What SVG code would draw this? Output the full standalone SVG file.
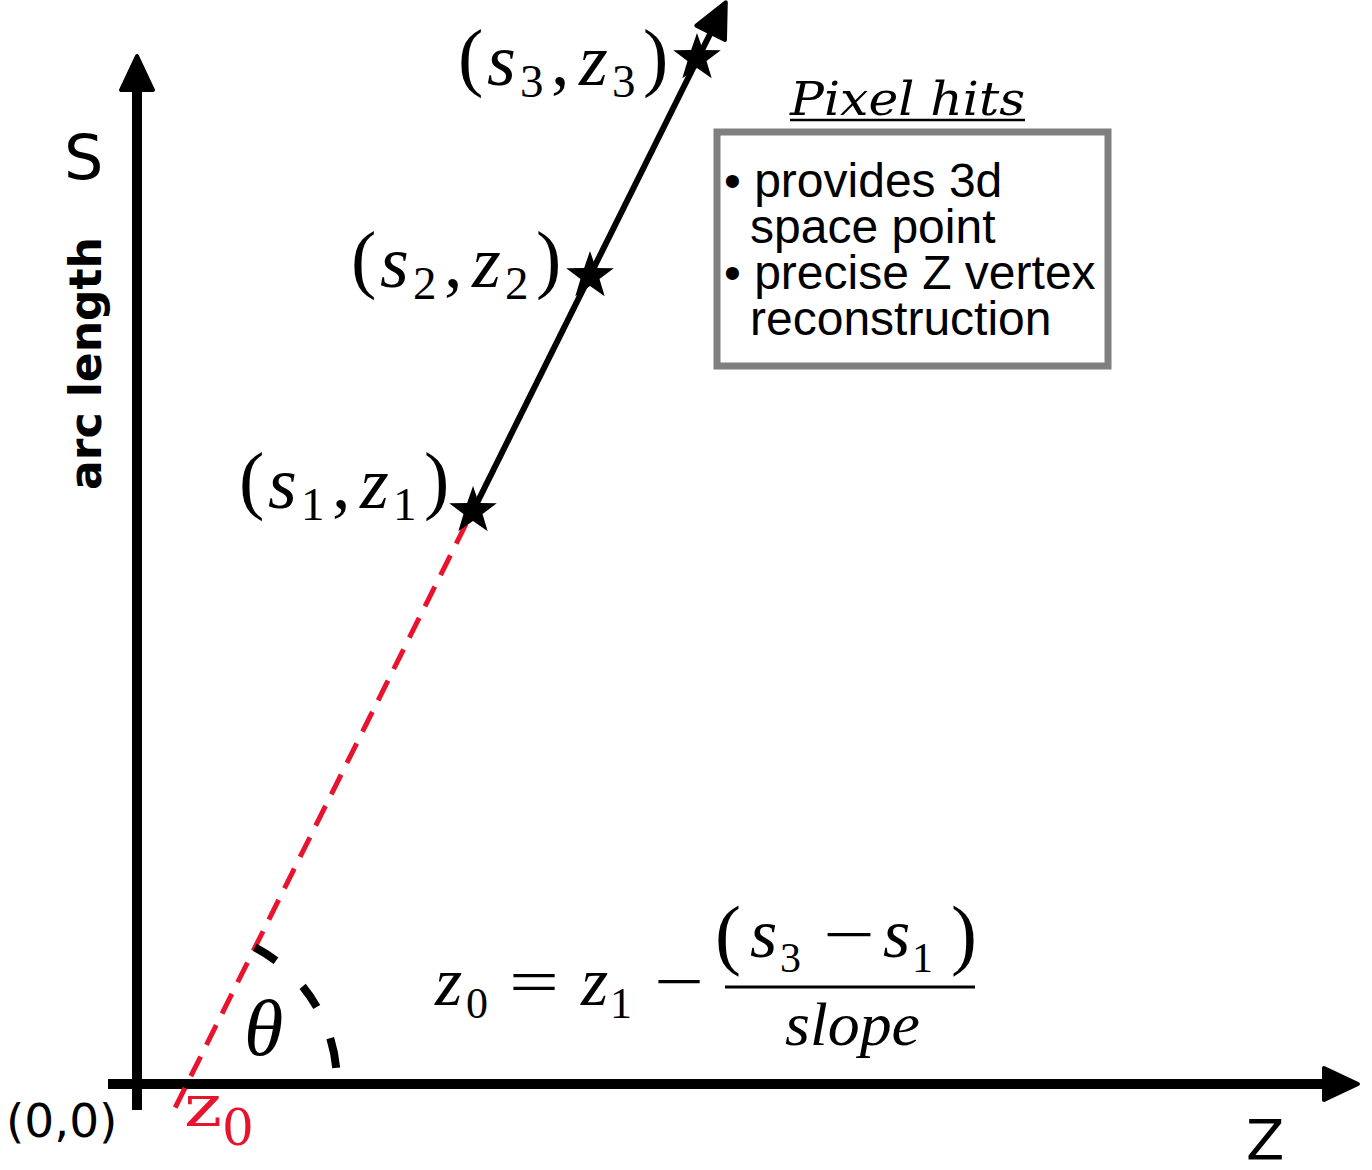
<svg xmlns="http://www.w3.org/2000/svg" xmlns:xlink="http://www.w3.org/1999/xlink" width="1372" height="1170" viewBox="0 0 1372 1170">
  <style>
    .axis { stroke: #000; stroke-width: 10; fill: none; }
    .track { stroke: #000; stroke-width: 6; fill: none; }
    .extrap { stroke: #e8132d; stroke-width: 5; fill: none; stroke-dasharray: 22 13; }
    .arc { stroke: #000; stroke-width: 8; fill: none; stroke-dasharray: 25 37 25 34 31; }
    .sans { font-family: "DejaVu Sans", sans-serif; fill: #000; }
    .box { font-family: "Liberation Sans", Arial, sans-serif; font-size: 48px; fill: #000; }
    .mi { font-family: "Liberation Serif", "Times New Roman", serif; font-style: italic; }
    .mr { font-family: "Liberation Serif", "Times New Roman", serif; }
  </style>
  <defs>
    <marker id="arrow" markerUnits="userSpaceOnUse" markerWidth="40" markerHeight="40" refX="0" refY="0" orient="auto" overflow="visible">
      <path d="M22,0 L-12,-16 L-12,16 Z" fill="#000" stroke="#000" stroke-width="4" stroke-linejoin="round"/>
    </marker>
    <path id="star" d="M0,-25 L5.88,-8.09 L23.78,-7.73 L9.51,3.09 L14.69,20.23 L0,10 L-14.69,20.23 L-9.51,3.09 L-23.78,-7.73 L-5.88,-8.09 Z" fill="#000"/>
  </defs>
  <rect width="1372" height="1170" fill="#fff"/>

  <g id="connectors">
    <line id="s-axis" class="axis" x1="137" y1="1110" x2="137" y2="78" marker-end="url(#arrow)"/>
    <line id="z-axis" class="axis" x1="108" y1="1084" x2="1336" y2="1084" marker-end="url(#arrow)"/>
    <line id="track" class="track" x1="473" y1="511" x2="716" y2="22" marker-end="url(#arrow)"/>
    <line id="extrapolation" class="extrap" x1="466" y1="524" x2="174" y2="1110"/>
    <path id="theta-arc" class="arc" d="M254.9,947.4 A153,153 0 0 1 336.2,1067.8"/>
  </g>

  <g id="hit1">
    <use xlink:href="#star" href="#star" x="473" y="511"/>
    <text font-size="74" fill="#000" transform="translate(-219,423)">
      <tspan class="mr" x="458" y="82" font-size="76">(</tspan><tspan class="mi" x="487" y="85">s</tspan><tspan class="mr" x="520" y="97" font-size="47">1</tspan><tspan class="mr" x="551" y="85">,</tspan><tspan class="mi" x="579" y="85">z</tspan><tspan class="mr" x="612" y="97" font-size="47">1</tspan><tspan class="mr" x="643" y="82" font-size="76">)</tspan>
    </text>
  </g>
  <g id="hit2">
    <use xlink:href="#star" href="#star" x="590" y="276"/>
    <text font-size="74" fill="#000" transform="translate(-107,202)">
      <tspan class="mr" x="458" y="82" font-size="76">(</tspan><tspan class="mi" x="487" y="85">s</tspan><tspan class="mr" x="520" y="97" font-size="47">2</tspan><tspan class="mr" x="551" y="85">,</tspan><tspan class="mi" x="579" y="85">z</tspan><tspan class="mr" x="612" y="97" font-size="47">2</tspan><tspan class="mr" x="643" y="82" font-size="76">)</tspan>
    </text>
  </g>
  <g id="hit3">
    <use xlink:href="#star" href="#star" x="697" y="58"/>
    <text font-size="74" fill="#000">
      <tspan class="mr" x="458" y="82" font-size="76">(</tspan><tspan class="mi" x="487" y="85">s</tspan><tspan class="mr" x="520" y="97" font-size="47">3</tspan><tspan class="mr" x="551" y="85">,</tspan><tspan class="mi" x="579" y="85">z</tspan><tspan class="mr" x="612" y="97" font-size="47">3</tspan><tspan class="mr" x="643" y="82" font-size="76">)</tspan>
    </text>
  </g>

  <g id="pixel-hits">
    <text x="790" y="115" font-family="DejaVu Serif, serif" font-style="italic" font-size="47" textLength="235" lengthAdjust="spacingAndGlyphs" fill="#000">Pixel hits</text>
    <line x1="790" y1="120" x2="1025" y2="120" stroke="#000" stroke-width="2.5"/>
    <rect x="717" y="132" width="391" height="234" fill="#fff" stroke="#7f7f7f" stroke-width="7"/>
    <text class="box" x="724" y="197">• provides 3d</text>
    <text class="box" x="750" y="243">space point</text>
    <text class="box" x="724" y="289">• precise Z vertex</text>
    <text class="box" x="750" y="335">reconstruction</text>
  </g>

  <g id="axis-labels">
    <text class="sans" x="64" y="179" font-size="62">S</text>
    <text class="sans" font-size="44" font-weight="bold" transform="translate(101,490) rotate(-90)">arc length</text>
    <text class="sans" x="1246" y="1159" font-size="56">Z</text>
    <text class="sans" x="6" y="1137" font-size="47">(0,0)</text>
  </g>

  <g id="z0-label" fill="#e8132d">
    <text x="184" y="1126" font-family="DejaVu Serif, serif" font-size="58" textLength="38" lengthAdjust="spacingAndGlyphs">z</text>
    <text x="222" y="1145" font-family="DejaVu Serif, serif" font-size="50">0</text>
  </g>

  <g id="theta-label">
    <text class="mi" x="244" y="1055" font-size="80" fill="#000">θ</text>
  </g>

  <g id="formula" fill="#000">
    <text class="mi" x="435" y="1005" font-size="70">z</text>
    <text class="mr" x="466" y="1018" font-size="44">0</text>
    <text class="mr" x="509" y="1003" font-size="64" textLength="50" lengthAdjust="spacingAndGlyphs">=</text>
    <text class="mi" x="581" y="1005" font-size="70">z</text>
    <text class="mr" x="610" y="1018" font-size="44">1</text>
    <text class="mr" x="654" y="1003" font-size="64" textLength="50" lengthAdjust="spacingAndGlyphs">−</text>
    <text class="mr" x="715" y="960" font-size="78">(</text>
    <text class="mi" x="750" y="957" font-size="70">s</text>
    <text class="mr" x="780" y="972" font-size="42">3</text>
    <text class="mr" x="823" y="956" font-size="64" textLength="52" lengthAdjust="spacingAndGlyphs">−</text>
    <text class="mi" x="883" y="957" font-size="70">s</text>
    <text class="mr" x="912" y="972" font-size="42">1</text>
    <text class="mr" x="951" y="960" font-size="78">)</text>
    <line x1="725" y1="987" x2="975" y2="987" stroke="#000" stroke-width="3"/>
    <text class="mi" x="785" y="1045" font-size="62" textLength="135" lengthAdjust="spacingAndGlyphs">slope</text>
  </g>
</svg>
